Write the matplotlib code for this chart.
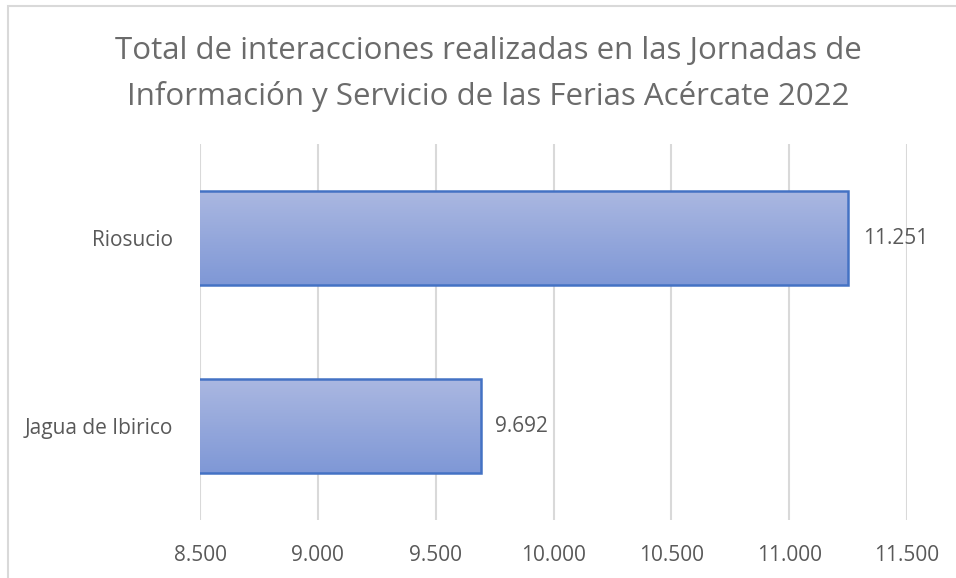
import matplotlib
matplotlib.use("Agg")
import matplotlib.pyplot as plt
import matplotlib.ticker as ticker
from matplotlib.patches import Rectangle
import numpy as np

categories = ["Jagua de Ibirico", "Riosucio"]
values = [9692, 11251]
x_ticks = [8500, 9000, 9500, 10000, 10500, 11000, 11500]
title = ("Total de interacciones realizadas en las Jornadas de\n"
         "Información y Servicio de las Ferias Acércate 2022")


def fmt(v):
    return f"{v:,.0f}".replace(",", ".")


plt.rcParams['font.family'] = ['Open Sans', 'DejaVu Sans']

fig = plt.figure(figsize=(9.56, 5.78), dpi=100)
ax = fig.add_axes([200 / 956, 1 - 520 / 578, 707 / 956, 376 / 578])

# chart area border (cut by the image edges on right and bottom)
fig.patches.append(Rectangle((8 / 956, -0.05), 1.1, 1 - 6 / 578 + 0.05,
                             transform=fig.transFigure, fill=False,
                             edgecolor="#D9D9D9", lw=1.5))

ypos = np.arange(len(categories))
bars = ax.barh(ypos, values, left=0, height=0.5, color="none",
               edgecolor="#4472C4", linewidth=1.8, zorder=3)

# vertical gradient: light top, darker bottom
grad = np.linspace(0, 1, 64).reshape(-1, 1)
cmap = matplotlib.colors.LinearSegmentedColormap.from_list(
    "g", ["#7F98D6", "#AAB7E1"])
for b in bars:
    y0 = b.get_y()
    y1 = y0 + b.get_height()
    im = ax.imshow(grad, extent=[x_ticks[0], b.get_width(), y0, y1],
                   origin="lower", aspect="auto", cmap=cmap, zorder=2)
    im.set_clip_path(b)

for b, v in zip(bars, values):
    ax.annotate(fmt(v), (v, b.get_y() + b.get_height() / 2),
                xytext=(10.5, 0), textcoords="offset points",
                ha="left", va="center", fontsize=15, color="#595959")

ax.set_xlim(x_ticks[0], x_ticks[-1])
ax.set_ylim(-0.5, len(categories) - 0.5)
ax.set_xticks(x_ticks)
ax.xaxis.set_major_formatter(ticker.FuncFormatter(lambda v, p: fmt(v)))
ax.set_yticks(ypos)
ax.set_yticklabels(categories)
ax.tick_params(axis="both", length=0, labelsize=15, labelcolor="#595959")
ax.tick_params(axis="x", pad=18)
ax.tick_params(axis="y", pad=19.5)

ax.grid(axis="x", color="#D9D9D9", linewidth=1.5, zorder=0)
ax.set_axisbelow(True)
for s in ax.spines.values():
    s.set_visible(False)

fig.text(488 / 956, 1 - 74 / 578, title, ha="center", va="center",
         fontsize=22.5, color="#6B6B6B", linespacing=1.62)

fig.savefig("out.png", dpi=100)
